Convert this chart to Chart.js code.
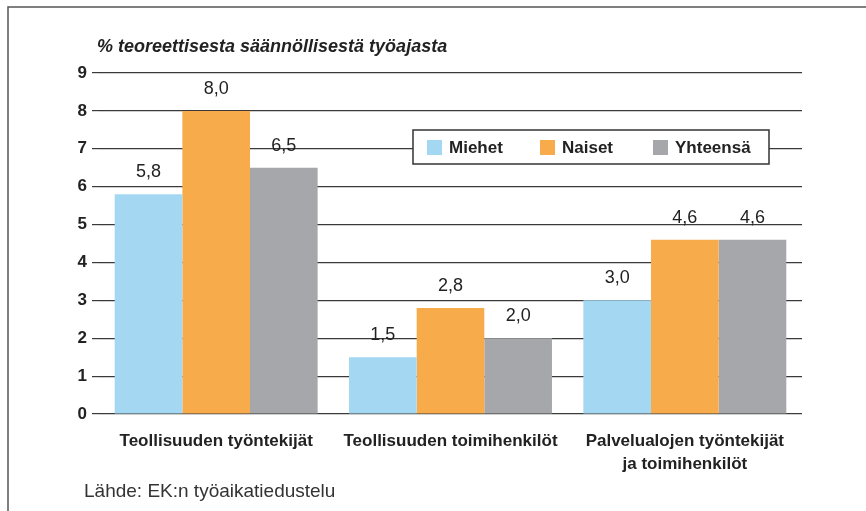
<!DOCTYPE html>
<html>
<head>
<meta charset="utf-8">
<script src="https://cdn.jsdelivr.net/npm/chart.js@4"></script>
<style>
  body { margin: 0; background: #fff; }
  #wrap { width: 866px; height: 511px; position: relative; }
</style>
</head>
<body>
<div id="wrap"><canvas id="myChart"></canvas></div>
<script>
'use strict';

// categories
let categories = [
    'Teollisuuden työntekijät',
    'Teollisuuden toimihenkilöt',
    ['Palvelualojen työntekijät', 'ja toimihenkilöt']
];

// series
let miehet = [5.8, 1.5, 3.0];
let naiset = [8.0, 2.8, 4.6];
let yhteensa = [6.5, 2.0, 4.6];

let seriesNames = ['Miehet', 'Naiset', 'Yhteensä'];
let colors = ['#a4d7f2', '#f8ab4b', '#a6a7aa'];

let yTicks = [0, 1, 2, 3, 4, 5, 6, 7, 8, 9];

let axisTitle = '% teoreettisesta säännöllisestä työajasta';
let sourceText = 'Lähde: EK:n työaikatiedustelu';

let fontFam = '"Liberation Sans", Arial, Helvetica, sans-serif';

// frame, title and source text
let decorPlugin = {
    id: 'decor',
    beforeDraw(chart) {
        let ctx = chart.ctx;
        ctx.save();
        ctx.fillStyle = '#fff';
        ctx.fillRect(0, 0, chart.width, chart.height);
        ctx.strokeStyle = '#555';
        ctx.lineWidth = 1.5;
        ctx.beginPath();
        ctx.moveTo(866, 7);
        ctx.lineTo(8, 7);
        ctx.lineTo(8, 511);
        ctx.stroke();
        ctx.restore();
    },
    afterDraw(chart) {
        let ctx = chart.ctx;
        ctx.save();
        ctx.fillStyle = '#222';
        ctx.textBaseline = 'middle';
        ctx.textAlign = 'left';
        ctx.font = 'italic bold 18px ' + fontFam;
        ctx.fillText(axisTitle, 97, 47);
        ctx.font = '19px ' + fontFam;
        ctx.fillStyle = '#333';
        ctx.fillText(sourceText, 84, 492);
        ctx.restore();
    }
};

// value labels above bars
let valuePlugin = {
    id: 'values',
    afterDatasetsDraw(chart) {
        let ctx = chart.ctx;
        ctx.save();
        ctx.fillStyle = '#222';
        ctx.font = '18px ' + fontFam;
        ctx.textAlign = 'center';
        ctx.textBaseline = 'middle';
        chart.data.datasets.forEach(function (ds, i) {
            let meta = chart.getDatasetMeta(i);
            meta.data.forEach(function (bar, j) {
                let txt = ds.data[j].toFixed(1).replace('.', ',');
                ctx.fillText(txt, bar.x, bar.y - 22);
            });
        });
        ctx.restore();
    }
};

// boxed legend inside the plot
let legendPlugin = {
    id: 'boxLegend',
    afterDatasetsDraw(chart) {
        let ctx = chart.ctx;
        ctx.save();
        ctx.fillStyle = '#fff';
        ctx.fillRect(413, 130, 356, 34);
        ctx.strokeStyle = '#333';
        ctx.lineWidth = 1.5;
        ctx.strokeRect(413, 130, 356, 34);
        let xs = [427, 540, 653];
        ctx.font = 'bold 17px ' + fontFam;
        ctx.textBaseline = 'middle';
        ctx.textAlign = 'left';
        chart.data.datasets.forEach(function (ds, i) {
            ctx.fillStyle = ds.backgroundColor;
            ctx.fillRect(xs[i], 140, 15, 15);
            ctx.fillStyle = '#222';
            ctx.fillText(ds.label, xs[i] + 22, 148);
        });
        ctx.restore();
    }
};

let data = {
    labels: categories,
    datasets: [miehet, naiset, yhteensa].map(function (vals, i) {
        return {
            label: seriesNames[i],
            data: vals,
            backgroundColor: colors[i],
            borderWidth: 0,
            categoryPercentage: 0.866,
            barPercentage: 1
        };
    })
};

let config = {
    type: 'bar',
    data,
    options: {
        responsive: true,
        maintainAspectRatio: false,
        animation: false,
        layout: { padding: { top: 73, right: 64, left: 0, bottom: 0 } },
        plugins: {
            legend: { display: false },
            tooltip: { enabled: false }
        },
        scales: {
            x: {
                grid: { display: false },
                border: { display: false },
                ticks: {
                    color: '#222',
                    font: { family: fontFam, size: 17, weight: 'bold', lineHeight: 1.4 },
                    padding: 7,
                    maxRotation: 0,
                    autoSkip: false
                },
                afterFit(s) { s.height = 97; }
            },
            y: {
                min: 0,
                max: 9,
                afterBuildTicks(s) { s.ticks = yTicks.map(function (v) { return { value: v }; }); },
                grid: { color: '#3a3a3a', lineWidth: 1.2, tickLength: 7 },
                border: { display: false },
                ticks: {
                    color: '#222',
                    font: { family: fontFam, size: 17, weight: 'bold' },
                    padding: 5
                },
                afterFit(s) { s.width = 99; }
            }
        }
    },
    plugins: [decorPlugin, valuePlugin, legendPlugin]
};

let myChart = new Chart(document.getElementById('myChart'), config);
</script>
</body>
</html>
